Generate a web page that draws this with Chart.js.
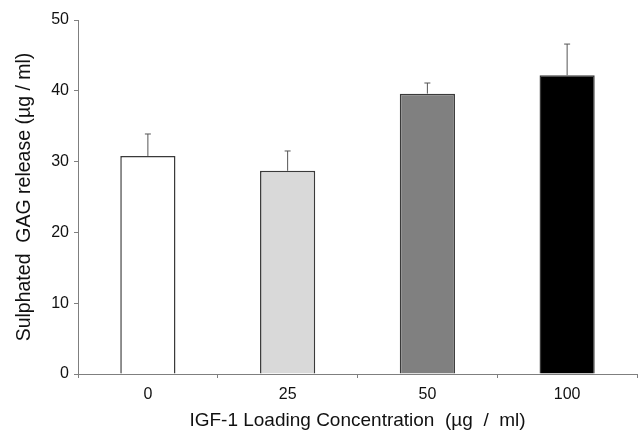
<!DOCTYPE html>
<html>
<head>
<meta charset="utf-8">
<script src="https://cdn.jsdelivr.net/npm/chart.js@4"></script>
<style>
  html, body { margin: 0; padding: 0; background: #fff; }
  #wrap { width: 638px; height: 432px; }
</style>
</head>
<body>
<div id="wrap"><canvas id="myChart" width="638" height="432"></canvas></div>
<script>
// values
const categories = ['0', '25', '50', '100'];
const gagRelease = [30.8, 28.7, 39.6, 42.2];
const gagError = [3.1, 2.8, 1.5, 4.4];
const barColours = ['#ffffff', '#d9d9d9', '#808080', '#000000'];

const fontFamily = '"Liberation Sans", Arial, sans-serif';

// upper-only error bars with a little cap
const errorBars = {
    id: 'errorBars',
    afterDatasetsDraw(chart) {
        const ctx = chart.ctx;
        const yScale = chart.scales.y;
        const meta = chart.getDatasetMeta(0);
        ctx.save();
        ctx.strokeStyle = '#555';
        ctx.lineWidth = 1;
        meta.data.forEach((bar, i) => {
            const top = yScale.getPixelForValue(gagRelease[i] + gagError[i]);
            ctx.beginPath();
            ctx.moveTo(bar.x, bar.y);
            ctx.lineTo(bar.x, top);
            ctx.moveTo(bar.x - 3, top);
            ctx.lineTo(bar.x + 3, top);
            ctx.stroke();
        });
        ctx.restore();
    }
};

new Chart(document.getElementById('myChart'), {
    type: 'bar',
    data: {
        labels: categories,
        datasets: [{
            data: gagRelease,
            backgroundColor: barColours,
            borderColor: '#3a3a3a',
            borderWidth: 1.5,
            barPercentage: 0.395,
            categoryPercentage: 1.0
        }]
    },
    options: {
        responsive: false,
        animation: false,
        layout: { padding: { top: 20, right: 1, left: 0, bottom: 0 } },
        plugins: { legend: { display: false }, tooltip: { enabled: false } },
        scales: {
            x: {
                grid: { display: true, offset: true, drawOnChartArea: false, tickLength: 4, color: '#7f7f7f' },
                border: { color: '#7f7f7f', width: 1 },
                ticks: { color: '#111', font: { family: fontFamily, size: 16 }, padding: 7 },
                title: {
                    display: true,
                    text: 'IGF-1 Loading Concentration  (µg  /  ml)',
                    color: '#111',
                    font: { family: fontFamily, size: 19 },
                    padding: { top: 6, bottom: 0 }
                },
                afterFit(scale) { scale.height = 58; }
            },
            y: {
                min: 0,
                max: 50,
                ticks: { stepSize: 10, color: '#111', font: { family: fontFamily, size: 16 }, padding: 5 },
                grid: { display: true, drawOnChartArea: false, tickLength: 4, color: '#7f7f7f' },
                border: { color: '#7f7f7f', width: 1 },
                title: {
                    display: true,
                    text: 'Sulphated  GAG release (µg / ml)',
                    color: '#111',
                    font: { family: fontFamily, size: 19.5 },
                    padding: { top: 13, bottom: 8 }
                },
                afterFit(scale) { scale.width = 78; }
            }
        }
    },
    plugins: [errorBars]
});
</script>
</body>
</html>
